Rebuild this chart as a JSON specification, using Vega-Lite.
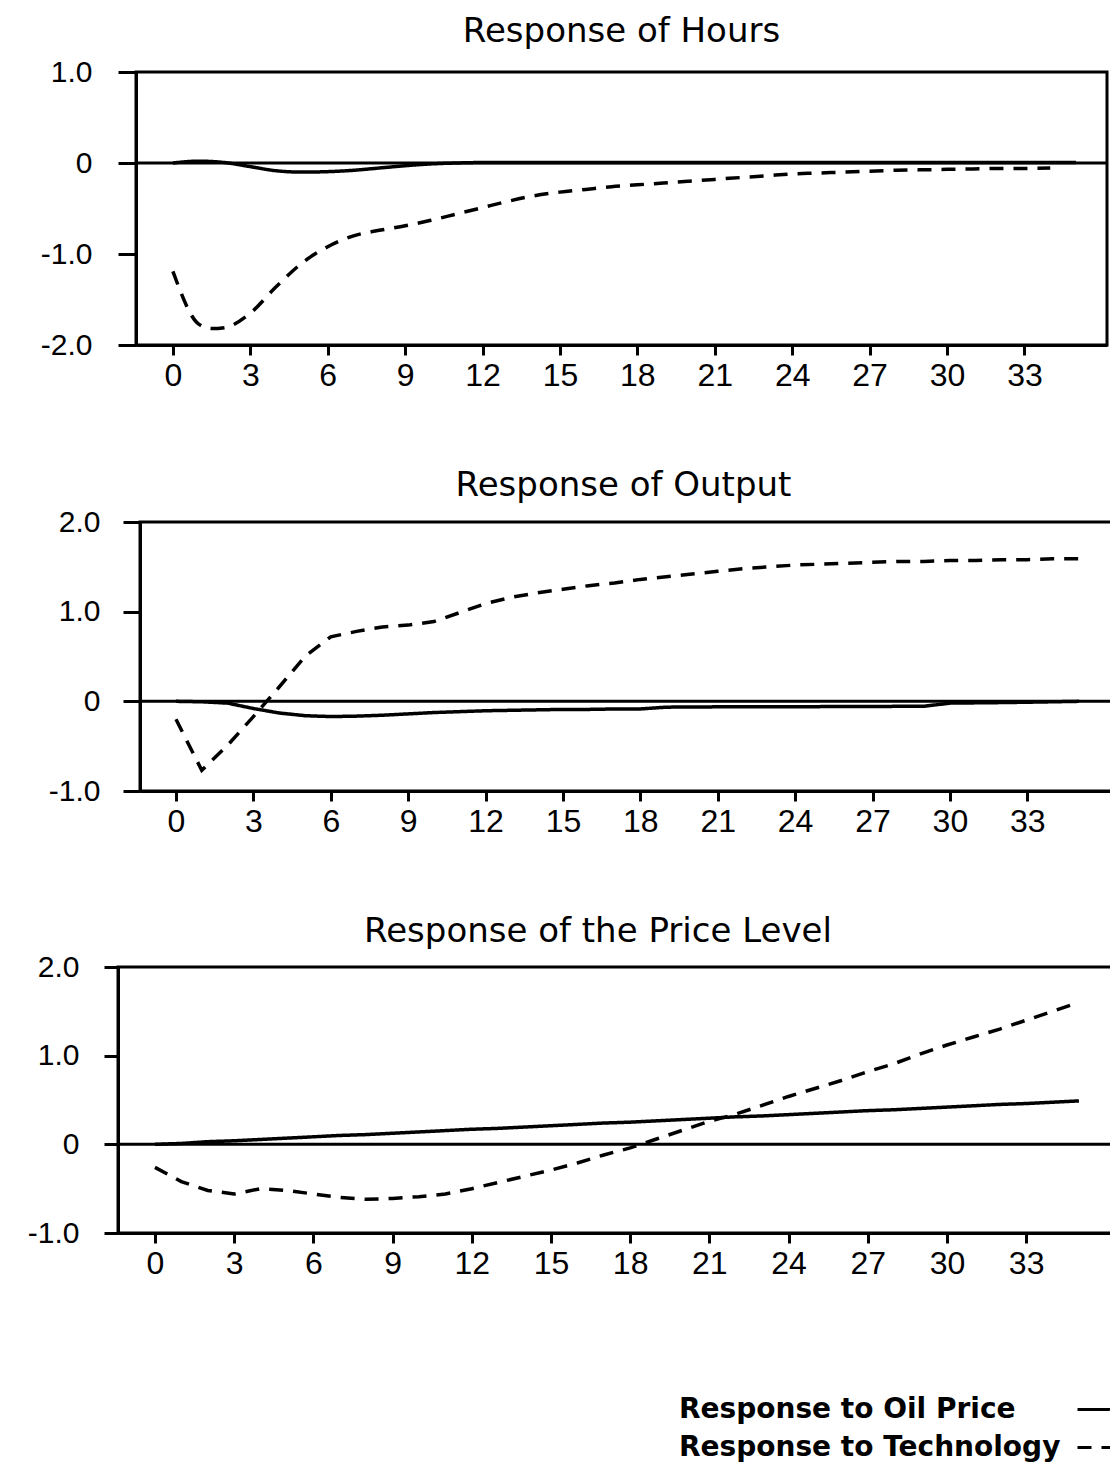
{
  "$schema": "https://vega.github.io/schema/vega-lite/v6.json",
  "background": "white",
  "padding": {"left": 10, "top": 13, "right": 0, "bottom": 0},
  "config": {
    "view": {"stroke": "black", "strokeWidth": 3},
    "axis": {"domainColor": "black", "domainWidth": 3, "tickColor": "black", "tickWidth": 3, "labelColor": "black", "labelFont": "Liberation Sans", "labelFontSize": 30, "grid": false, "labelFlush": false, "labelOverlap": false},
    "title": {"font": "DejaVu Sans", "fontSize": 34, "fontWeight": "normal", "color": "black", "baseline": "alphabetic", "anchor": "middle"},
    "legend": {"orient": "none", "direction": "vertical", "legendX": 1066, "legendY": 1319, "symbolType": "stroke", "symbolSize": 1156, "symbolStrokeWidth": 3, "symbolStrokeColor": "black", "labelFont": "DejaVu Sans", "labelFontWeight": "bold", "labelFontSize": 28, "labelColor": "black", "labelOffset": -434, "labelAlign": "left", "rowPadding": 5, "labelLimit": 0}
  },
  "datasets": {
    "hours": [
      {"t": 0, "series": "Response to Oil Price", "value": 0},
      {"t": 1, "series": "Response to Oil Price", "value": 0.02},
      {"t": 2, "series": "Response to Oil Price", "value": 0.005},
      {"t": 3, "series": "Response to Oil Price", "value": -0.04},
      {"t": 4, "series": "Response to Oil Price", "value": -0.085},
      {"t": 5, "series": "Response to Oil Price", "value": -0.1},
      {"t": 6, "series": "Response to Oil Price", "value": -0.095},
      {"t": 7, "series": "Response to Oil Price", "value": -0.08},
      {"t": 8, "series": "Response to Oil Price", "value": -0.055},
      {"t": 9, "series": "Response to Oil Price", "value": -0.03},
      {"t": 10, "series": "Response to Oil Price", "value": -0.01},
      {"t": 11, "series": "Response to Oil Price", "value": 0},
      {"t": 12, "series": "Response to Oil Price", "value": 0.005},
      {"t": 15, "series": "Response to Oil Price", "value": 0.005},
      {"t": 20, "series": "Response to Oil Price", "value": 0.005},
      {"t": 25, "series": "Response to Oil Price", "value": 0.005},
      {"t": 30, "series": "Response to Oil Price", "value": 0.005},
      {"t": 35, "series": "Response to Oil Price", "value": 0.005},
      {"t": 0, "series": "Response to Technology", "value": -1.19},
      {"t": 1, "series": "Response to Technology", "value": -1.77},
      {"t": 1.5, "series": "Response to Technology", "value": -1.82},
      {"t": 2, "series": "Response to Technology", "value": -1.81},
      {"t": 3, "series": "Response to Technology", "value": -1.65},
      {"t": 4, "series": "Response to Technology", "value": -1.36},
      {"t": 5, "series": "Response to Technology", "value": -1.1},
      {"t": 6, "series": "Response to Technology", "value": -0.92},
      {"t": 7, "series": "Response to Technology", "value": -0.8},
      {"t": 8, "series": "Response to Technology", "value": -0.74},
      {"t": 9, "series": "Response to Technology", "value": -0.69},
      {"t": 10, "series": "Response to Technology", "value": -0.63},
      {"t": 11, "series": "Response to Technology", "value": -0.56},
      {"t": 12, "series": "Response to Technology", "value": -0.49},
      {"t": 13, "series": "Response to Technology", "value": -0.42},
      {"t": 14, "series": "Response to Technology", "value": -0.36},
      {"t": 15, "series": "Response to Technology", "value": -0.32},
      {"t": 16, "series": "Response to Technology", "value": -0.29},
      {"t": 17, "series": "Response to Technology", "value": -0.26},
      {"t": 18, "series": "Response to Technology", "value": -0.24},
      {"t": 19, "series": "Response to Technology", "value": -0.22},
      {"t": 20, "series": "Response to Technology", "value": -0.2},
      {"t": 21, "series": "Response to Technology", "value": -0.18},
      {"t": 22, "series": "Response to Technology", "value": -0.16},
      {"t": 23, "series": "Response to Technology", "value": -0.14},
      {"t": 24, "series": "Response to Technology", "value": -0.12},
      {"t": 25, "series": "Response to Technology", "value": -0.11},
      {"t": 26, "series": "Response to Technology", "value": -0.1},
      {"t": 27, "series": "Response to Technology", "value": -0.09},
      {"t": 28, "series": "Response to Technology", "value": -0.08},
      {"t": 29, "series": "Response to Technology", "value": -0.075},
      {"t": 30, "series": "Response to Technology", "value": -0.07},
      {"t": 31, "series": "Response to Technology", "value": -0.065},
      {"t": 32, "series": "Response to Technology", "value": -0.06},
      {"t": 33, "series": "Response to Technology", "value": -0.06},
      {"t": 34, "series": "Response to Technology", "value": -0.055}
    ],
    "output": [
      {"t": 0, "series": "Response to Oil Price", "value": 0},
      {"t": 1, "series": "Response to Oil Price", "value": -0.005},
      {"t": 2, "series": "Response to Oil Price", "value": -0.02},
      {"t": 3, "series": "Response to Oil Price", "value": -0.08},
      {"t": 4, "series": "Response to Oil Price", "value": -0.13},
      {"t": 5, "series": "Response to Oil Price", "value": -0.16},
      {"t": 6, "series": "Response to Oil Price", "value": -0.17},
      {"t": 7, "series": "Response to Oil Price", "value": -0.165},
      {"t": 8, "series": "Response to Oil Price", "value": -0.155},
      {"t": 9, "series": "Response to Oil Price", "value": -0.14},
      {"t": 10, "series": "Response to Oil Price", "value": -0.125},
      {"t": 11, "series": "Response to Oil Price", "value": -0.115},
      {"t": 12, "series": "Response to Oil Price", "value": -0.105},
      {"t": 13, "series": "Response to Oil Price", "value": -0.1},
      {"t": 14, "series": "Response to Oil Price", "value": -0.095},
      {"t": 15, "series": "Response to Oil Price", "value": -0.09},
      {"t": 16, "series": "Response to Oil Price", "value": -0.09},
      {"t": 17, "series": "Response to Oil Price", "value": -0.085},
      {"t": 18, "series": "Response to Oil Price", "value": -0.085},
      {"t": 19, "series": "Response to Oil Price", "value": -0.065},
      {"t": 20, "series": "Response to Oil Price", "value": -0.063},
      {"t": 22, "series": "Response to Oil Price", "value": -0.06},
      {"t": 24, "series": "Response to Oil Price", "value": -0.06},
      {"t": 26, "series": "Response to Oil Price", "value": -0.058},
      {"t": 28, "series": "Response to Oil Price", "value": -0.056},
      {"t": 29, "series": "Response to Oil Price", "value": -0.055},
      {"t": 30, "series": "Response to Oil Price", "value": -0.02},
      {"t": 31, "series": "Response to Oil Price", "value": -0.017},
      {"t": 32, "series": "Response to Oil Price", "value": -0.014},
      {"t": 33, "series": "Response to Oil Price", "value": -0.01},
      {"t": 34, "series": "Response to Oil Price", "value": -0.005},
      {"t": 35, "series": "Response to Oil Price", "value": 0},
      {"t": 0, "series": "Response to Technology", "value": -0.2},
      {"t": 1, "series": "Response to Technology", "value": -0.77},
      {"t": 2, "series": "Response to Technology", "value": -0.49},
      {"t": 3, "series": "Response to Technology", "value": -0.17},
      {"t": 4, "series": "Response to Technology", "value": 0.16},
      {"t": 5, "series": "Response to Technology", "value": 0.5},
      {"t": 6, "series": "Response to Technology", "value": 0.72},
      {"t": 7, "series": "Response to Technology", "value": 0.78},
      {"t": 8, "series": "Response to Technology", "value": 0.83},
      {"t": 9, "series": "Response to Technology", "value": 0.85},
      {"t": 10, "series": "Response to Technology", "value": 0.89},
      {"t": 11, "series": "Response to Technology", "value": 0.99},
      {"t": 12, "series": "Response to Technology", "value": 1.09},
      {"t": 13, "series": "Response to Technology", "value": 1.16},
      {"t": 14, "series": "Response to Technology", "value": 1.21},
      {"t": 15, "series": "Response to Technology", "value": 1.25},
      {"t": 16, "series": "Response to Technology", "value": 1.29},
      {"t": 17, "series": "Response to Technology", "value": 1.32},
      {"t": 18, "series": "Response to Technology", "value": 1.36},
      {"t": 19, "series": "Response to Technology", "value": 1.39},
      {"t": 20, "series": "Response to Technology", "value": 1.42},
      {"t": 21, "series": "Response to Technology", "value": 1.45},
      {"t": 22, "series": "Response to Technology", "value": 1.48},
      {"t": 23, "series": "Response to Technology", "value": 1.5},
      {"t": 24, "series": "Response to Technology", "value": 1.52},
      {"t": 25, "series": "Response to Technology", "value": 1.53},
      {"t": 26, "series": "Response to Technology", "value": 1.54},
      {"t": 27, "series": "Response to Technology", "value": 1.55},
      {"t": 28, "series": "Response to Technology", "value": 1.56},
      {"t": 29, "series": "Response to Technology", "value": 1.56},
      {"t": 30, "series": "Response to Technology", "value": 1.57},
      {"t": 31, "series": "Response to Technology", "value": 1.57},
      {"t": 32, "series": "Response to Technology", "value": 1.58},
      {"t": 33, "series": "Response to Technology", "value": 1.58},
      {"t": 34, "series": "Response to Technology", "value": 1.59},
      {"t": 35, "series": "Response to Technology", "value": 1.59}
    ],
    "price": [
      {"t": 0, "series": "Response to Oil Price", "value": 0},
      {"t": 1, "series": "Response to Oil Price", "value": 0.01},
      {"t": 2, "series": "Response to Oil Price", "value": 0.03},
      {"t": 3, "series": "Response to Oil Price", "value": 0.04},
      {"t": 4, "series": "Response to Oil Price", "value": 0.055},
      {"t": 5, "series": "Response to Oil Price", "value": 0.07},
      {"t": 6, "series": "Response to Oil Price", "value": 0.085},
      {"t": 7, "series": "Response to Oil Price", "value": 0.1},
      {"t": 8, "series": "Response to Oil Price", "value": 0.11},
      {"t": 9, "series": "Response to Oil Price", "value": 0.125},
      {"t": 10, "series": "Response to Oil Price", "value": 0.14},
      {"t": 11, "series": "Response to Oil Price", "value": 0.155},
      {"t": 12, "series": "Response to Oil Price", "value": 0.17},
      {"t": 13, "series": "Response to Oil Price", "value": 0.18},
      {"t": 14, "series": "Response to Oil Price", "value": 0.195},
      {"t": 15, "series": "Response to Oil Price", "value": 0.21},
      {"t": 16, "series": "Response to Oil Price", "value": 0.225},
      {"t": 17, "series": "Response to Oil Price", "value": 0.24},
      {"t": 18, "series": "Response to Oil Price", "value": 0.25},
      {"t": 19, "series": "Response to Oil Price", "value": 0.265},
      {"t": 20, "series": "Response to Oil Price", "value": 0.28},
      {"t": 21, "series": "Response to Oil Price", "value": 0.295},
      {"t": 22, "series": "Response to Oil Price", "value": 0.31},
      {"t": 23, "series": "Response to Oil Price", "value": 0.32},
      {"t": 24, "series": "Response to Oil Price", "value": 0.335},
      {"t": 25, "series": "Response to Oil Price", "value": 0.35},
      {"t": 26, "series": "Response to Oil Price", "value": 0.365},
      {"t": 27, "series": "Response to Oil Price", "value": 0.38},
      {"t": 28, "series": "Response to Oil Price", "value": 0.39},
      {"t": 29, "series": "Response to Oil Price", "value": 0.405},
      {"t": 30, "series": "Response to Oil Price", "value": 0.42},
      {"t": 31, "series": "Response to Oil Price", "value": 0.435},
      {"t": 32, "series": "Response to Oil Price", "value": 0.45},
      {"t": 33, "series": "Response to Oil Price", "value": 0.46},
      {"t": 34, "series": "Response to Oil Price", "value": 0.475},
      {"t": 35, "series": "Response to Oil Price", "value": 0.49},
      {"t": 0, "series": "Response to Technology", "value": -0.26},
      {"t": 1, "series": "Response to Technology", "value": -0.42},
      {"t": 2, "series": "Response to Technology", "value": -0.52},
      {"t": 3, "series": "Response to Technology", "value": -0.56},
      {"t": 4, "series": "Response to Technology", "value": -0.5},
      {"t": 5, "series": "Response to Technology", "value": -0.52},
      {"t": 6, "series": "Response to Technology", "value": -0.56},
      {"t": 7, "series": "Response to Technology", "value": -0.6},
      {"t": 8, "series": "Response to Technology", "value": -0.62},
      {"t": 9, "series": "Response to Technology", "value": -0.61},
      {"t": 10, "series": "Response to Technology", "value": -0.59},
      {"t": 11, "series": "Response to Technology", "value": -0.56},
      {"t": 12, "series": "Response to Technology", "value": -0.5},
      {"t": 13, "series": "Response to Technology", "value": -0.43},
      {"t": 14, "series": "Response to Technology", "value": -0.36},
      {"t": 15, "series": "Response to Technology", "value": -0.29},
      {"t": 16, "series": "Response to Technology", "value": -0.21},
      {"t": 17, "series": "Response to Technology", "value": -0.12},
      {"t": 18, "series": "Response to Technology", "value": -0.04},
      {"t": 19, "series": "Response to Technology", "value": 0.06},
      {"t": 20, "series": "Response to Technology", "value": 0.16},
      {"t": 21, "series": "Response to Technology", "value": 0.26},
      {"t": 22, "series": "Response to Technology", "value": 0.34},
      {"t": 23, "series": "Response to Technology", "value": 0.44},
      {"t": 24, "series": "Response to Technology", "value": 0.54},
      {"t": 25, "series": "Response to Technology", "value": 0.63},
      {"t": 26, "series": "Response to Technology", "value": 0.72},
      {"t": 27, "series": "Response to Technology", "value": 0.82},
      {"t": 28, "series": "Response to Technology", "value": 0.91},
      {"t": 29, "series": "Response to Technology", "value": 1.02},
      {"t": 30, "series": "Response to Technology", "value": 1.12},
      {"t": 31, "series": "Response to Technology", "value": 1.21},
      {"t": 32, "series": "Response to Technology", "value": 1.3},
      {"t": 33, "series": "Response to Technology", "value": 1.4},
      {"t": 34, "series": "Response to Technology", "value": 1.5},
      {"t": 35, "series": "Response to Technology", "value": 1.6}
    ]
  },
  "vconcat": [
    {
      "spacing": 0,
      "hconcat": [
        {"width": 28, "height": 10, "view": {"fill": "white", "stroke": null}, "data": {"values": [{"a": 1}]}, "mark": {"type": "point", "opacity": 0}},
        {
          "width": 971,
          "height": 273,
          "title": {"text": "Response of Hours", "offset": 8},
          "layer": [
            {
              "data": {"name": "hours"},
              "mark": {"type": "line", "strokeWidth": 3.5, "color": "black", "interpolate": "monotone"},
              "encoding": {
                "x": {"field": "t", "type": "quantitative", "scale": {"domain": [-1.43, 36.2], "nice": false, "zero": false}, "axis": {"values": [0, 3, 6, 9, 12, 15, 18, 21, 24, 27, 30, 33], "tickSize": 10, "labelPadding": 5, "labelFontSize": 32, "title": null}},
                "y": {"field": "value", "type": "quantitative", "scale": {"domain": [-2, 1], "nice": false}, "axis": {"values": [-2, -1, 0, 1], "labelExpr": "datum.value == 0 ? '0' : (datum.value < 0 ? '-' : '') + format(abs(datum.value), '.1f')", "tickSize": 18, "labelPadding": 26, "title": null}},
                "strokeDash": {"field": "series", "type": "nominal", "scale": {"domain": ["Response to Oil Price", "Response to Technology"], "range": [[1, 0], [14, 10]]}, "legend": {"title": null}}
              }
            },
            {
              "data": {"values": [{"v": 0}]},
              "mark": {"type": "rule", "strokeWidth": 3, "color": "black"},
              "encoding": {"y": {"field": "v", "type": "quantitative"}}
            }
          ]
        }
      ]
    },
    {
      "spacing": 0,
      "hconcat": [
        {"width": 36, "height": 10, "view": {"fill": "white", "stroke": null}, "data": {"values": [{"a": 1}]}, "mark": {"type": "point", "opacity": 0}},
        {
          "width": 975,
          "height": 269,
          "title": {"text": "Response of Output", "offset": 4, "dx": -4},
          "layer": [
            {
              "data": {"name": "output"},
              "mark": {"type": "line", "strokeWidth": 3.5, "color": "black"},
              "encoding": {
                "x": {"field": "t", "type": "quantitative", "scale": {"domain": [-1.395, 36.4], "nice": false, "zero": false}, "axis": {"values": [0, 3, 6, 9, 12, 15, 18, 21, 24, 27, 30, 33], "tickSize": 10, "labelPadding": 5, "labelFontSize": 32, "title": null}},
                "y": {"field": "value", "type": "quantitative", "scale": {"domain": [-1, 2], "nice": false}, "axis": {"values": [-1, 0, 1, 2], "labelExpr": "datum.value == 0 ? '0' : (datum.value < 0 ? '-' : '') + format(abs(datum.value), '.1f')", "tickSize": 17, "labelPadding": 23, "title": null}},
                "strokeDash": {"field": "series", "type": "nominal", "scale": {"domain": ["Response to Oil Price", "Response to Technology"], "range": [[1, 0], [14, 10]]}, "legend": {"title": null}}
              }
            },
            {
              "data": {"values": [{"v": 0}]},
              "mark": {"type": "rule", "strokeWidth": 3, "color": "black"},
              "encoding": {"y": {"field": "v", "type": "quantitative"}}
            }
          ]
        }
      ]
    },
    {
      "spacing": 0,
      "hconcat": [
        {"width": 15, "height": 10, "view": {"fill": "white", "stroke": null}, "data": {"values": [{"a": 1}]}, "mark": {"type": "point", "opacity": 0}},
        {
          "width": 1000,
          "height": 266,
          "title": {"text": "Response of the Price Level", "offset": 3, "dx": -20},
          "layer": [
            {
              "data": {"name": "price"},
              "mark": {"type": "line", "strokeWidth": 3.5, "color": "black"},
              "encoding": {
                "x": {"field": "t", "type": "quantitative", "scale": {"domain": [-1.4, 36.48], "nice": false, "zero": false}, "axis": {"values": [0, 3, 6, 9, 12, 15, 18, 21, 24, 27, 30, 33], "tickSize": 10, "labelPadding": 5, "labelFontSize": 32, "title": null}},
                "y": {"field": "value", "type": "quantitative", "scale": {"domain": [-1, 2], "nice": false}, "axis": {"values": [-1, 0, 1, 2], "labelExpr": "datum.value == 0 ? '0' : (datum.value < 0 ? '-' : '') + format(abs(datum.value), '.1f')", "tickSize": 14, "labelPadding": 25, "title": null}},
                "strokeDash": {"field": "series", "type": "nominal", "scale": {"domain": ["Response to Oil Price", "Response to Technology"], "range": [[1, 0], [14, 10]]}, "legend": {"title": null}}
              }
            },
            {
              "data": {"values": [{"v": 0}]},
              "mark": {"type": "rule", "strokeWidth": 3, "color": "black"},
              "encoding": {"y": {"field": "v", "type": "quantitative"}}
            }
          ]
        }
      ]
    }
  ],
  "spacing": 74
}
